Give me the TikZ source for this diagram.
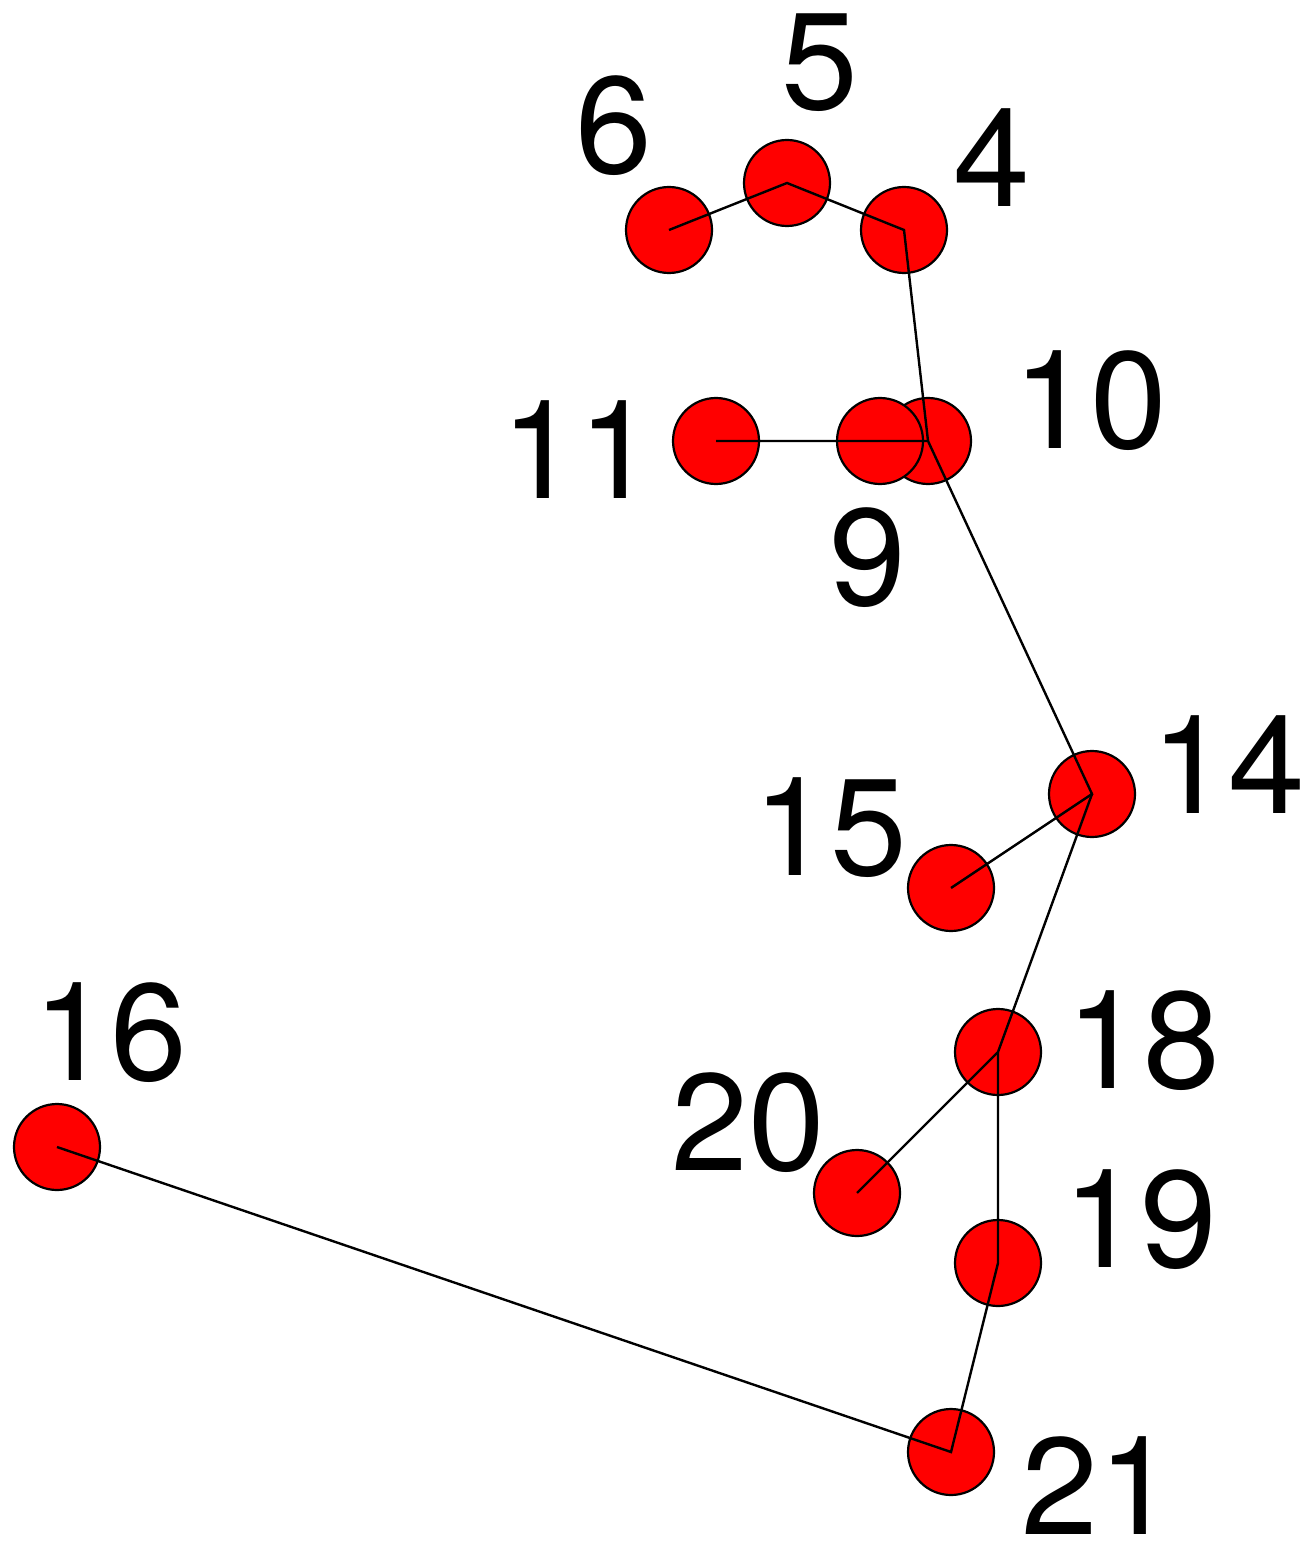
\documentclass[tikz,border=0pt]{standalone}
\usepackage{fontspec}
\setmainfont{TeX Gyre Heros}
\begin{document}
\begin{tikzpicture}[x=0.5pt,y=-0.5pt,
  dot/.style={circle,draw=black,fill=red,line width=1.1pt,minimum size=43pt,inner sep=0pt},
  lab/.style={font=\fontsize{69}{83}\selectfont,inner sep=0pt},
  edge/.style={line width=1.2pt,black}]
\useasboundingbox (0,0) rectangle (1306,1545);
\node[dot] (n6) at (669,230) {};
\node[dot] (n5) at (787,183) {};
\node[dot] (n4) at (904,230) {};
\node[dot] (n10) at (928,441) {};
\node[dot] (n9) at (880,441) {};
\node[dot] (n11) at (716,441) {};
\node[dot] (n14) at (1092,794) {};
\node[dot] (n15) at (951,888) {};
\node[dot] (n16) at (57,1147) {};
\node[dot] (n18) at (998,1052) {};
\node[dot] (n20) at (857,1193) {};
\node[dot] (n19) at (998,1263) {};
\node[dot] (n21) at (951,1452) {};
\draw[edge] (n6.center) -- (n5.center) -- (n4.center) -- (n10.center);
\draw[edge] (n11.center) -- (n10.center) -- (n14.center) -- (n15.center);
\draw[edge] (n14.center) -- (n18.center) -- (n20.center);
\draw[edge] (n18.center) -- (n19.center) -- (n21.center) -- (n16.center);
\node[lab] (l6) at (614,126) {6};
\node[lab] (l5) at (820,63) {5};
\node[lab] (l4) at (992,158) {4};
\node[lab] (l10) at (1090,401) {10};
\node[lab] (l11) at (578,450) {11};
\node[lab] (l9) at (868,558) {9};
\node[lab] (l14) at (1228,765) {14};
\node[lab] (l15) at (830,828) {15};
\node[lab] (l16) at (110,1033) {16};
\node[lab] (l18) at (1143,1041) {18};
\node[lab] (l20) at (748,1123) {20};
\node[lab] (l19) at (1140,1220) {19};
\node[lab] (l21) at (1098,1486) {21};
\end{tikzpicture}
\end{document}
